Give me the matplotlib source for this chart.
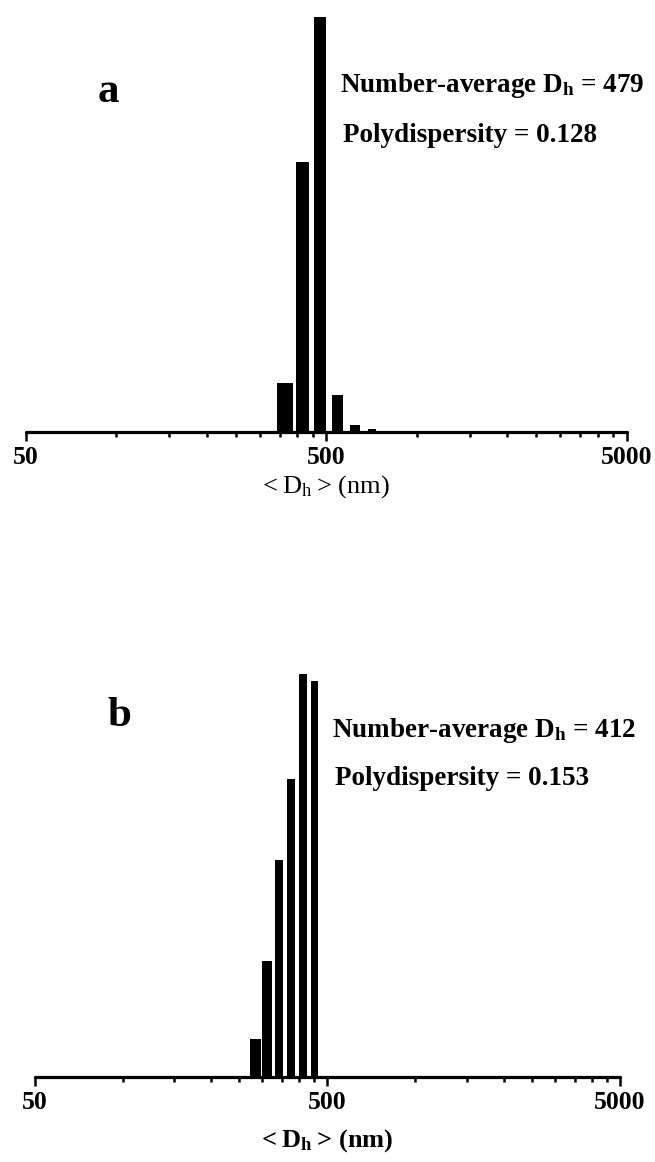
import matplotlib
matplotlib.use("Agg")
import matplotlib.pyplot as plt
from matplotlib.ticker import FixedLocator, FixedFormatter, NullFormatter

plt.rcParams['font.family'] = ['Liberation Serif', 'DejaVu Serif']
plt.rcParams['mathtext.fontset'] = 'custom'
plt.rcParams['mathtext.rm'] = 'Liberation Serif'
plt.rcParams['mathtext.bf'] = 'Liberation Serif:bold'
plt.rcParams['mathtext.it'] = 'Liberation Serif:italic'

# ---- data ----
sizes_a = [365, 417, 477, 545, 623, 711]          # nm
number_pct_a = [6.3, 34.5, 53.2, 4.7, 0.9, 0.4]   # %
sizes_b = [285, 312, 342, 376, 413, 452]          # nm
number_pct_b = [2.6, 7.9, 14.8, 20.3, 27.5, 27.0] # %

major_ticks = [50, 500, 5000]
major_labels = ["50", "500", "5000"]
minor_ticks = [100, 150, 200, 250, 300, 350, 400, 450,
               1000, 1500, 2000, 2500, 3000, 3500, 4000, 4500]

avg_a, pdi_a = "479", "0.128"
avg_b, pdi_b = "412", "0.153"

W, H = 655, 1162
fig = plt.figure(figsize=(W / 100, H / 100), dpi=100)
fig.patch.set_facecolor('white')


def style_axis(ax, ytop, xlabel, xlabel_weight, labelpad):
    ax.set_xscale('log')
    ax.set_xlim(50, 5000)
    ax.set_ylim(0, ytop)
    for s in ['left', 'right', 'top']:
        ax.spines[s].set_visible(False)
    ax.spines['bottom'].set_linewidth(2.3)
    ax.spines['bottom'].set_capstyle('round')
    ax.yaxis.set_visible(False)
    ax.xaxis.set_major_locator(FixedLocator(major_ticks))
    ax.xaxis.set_major_formatter(FixedFormatter(major_labels))
    ax.xaxis.set_minor_locator(FixedLocator(minor_ticks))
    ax.xaxis.set_minor_formatter(NullFormatter())
    ax.tick_params(axis='x', which='major', direction='out', length=6.5, width=1.8,
                   pad=4, labelsize=18.5)
    ax.tick_params(axis='x', which='minor', direction='out', length=3.5, width=1.8)
    for lab in ax.get_xticklabels():
        lab.set_fontweight('bold')
    ax.set_xlabel(xlabel, fontsize=19, fontweight=xlabel_weight, labelpad=labelpad)
    ax.set_facecolor('white')


# Panel a
ax1 = fig.add_axes([25.7 / W, 1 - 431.7 / H, (627 - 25.7) / W, (431.7 - 15) / H])
ax1.bar(sizes_a, number_pct_a, width=44, color='black', edgecolor='none',
        align='center', clip_on=False, zorder=1)
style_axis(ax1, 53.4, '<\u2009D$_\\mathrm{h}$\u2009> (nm)', 'normal', 3)

# Panel b
ax2 = fig.add_axes([34.5 / W, 1 - 1076.7 / H, (620 - 34.5) / W, (1076.7 - 674) / H])
ax2.bar(sizes_b, number_pct_b, width=23.5, color='black', edgecolor='none',
        align='center', clip_on=False, zorder=1)
style_axis(ax2, 27.5, '<\u2009D$_\\mathbf{h}$\u2009> (nm)', 'bold', 9)

# Annotations
fig.text(98 / W, 1 - 102 / H, 'a', fontsize=31, fontweight='bold', va='baseline')
fig.text(340 / W, 1 - 91.7 / H, r'Number-average D$_\mathbf{h}$ = ' + avg_a,
         fontsize=19.5, fontweight='bold', va='baseline')
fig.text(343 / W, 1 - 141.7 / H, 'Polydispersity = ' + pdi_a,
         fontsize=19.5, fontweight='bold', va='baseline')

fig.text(108 / W, 1 - 726 / H, 'b', fontsize=31, fontweight='bold', va='baseline')
fig.text(332 / W, 1 - 737 / H, r'Number-average D$_\mathbf{h}$ = ' + avg_b,
         fontsize=19.5, fontweight='bold', va='baseline')
fig.text(335 / W, 1 - 785 / H, 'Polydispersity = ' + pdi_b,
         fontsize=19.5, fontweight='bold', va='baseline')

fig.savefig('out.png', dpi=100, facecolor='white')
